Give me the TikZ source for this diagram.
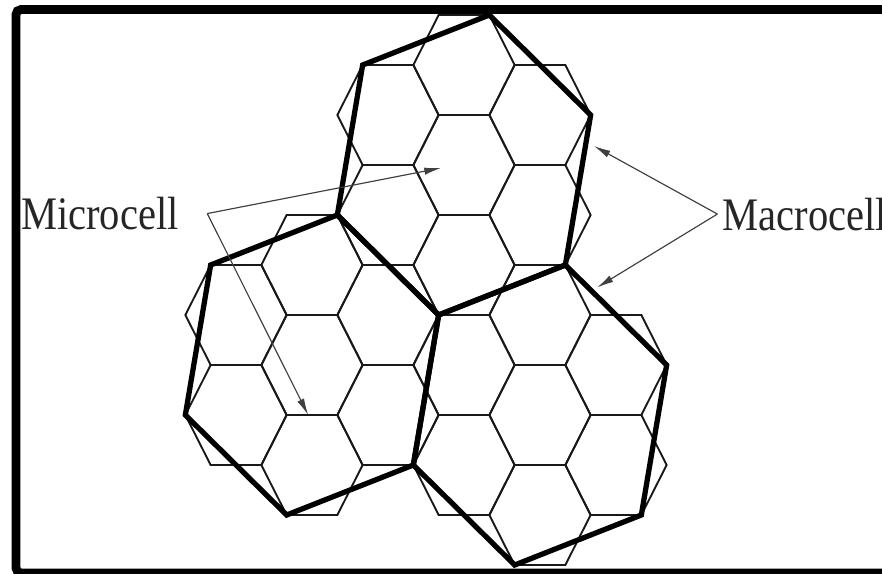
\documentclass[tikz,border=0pt]{standalone}
\usepackage{fontspec}
\setmainfont{Liberation Serif}
\usetikzlibrary{arrows.meta}

\begin{document}
\begin{tikzpicture}[x=0.76cm, y=1.5cm,
    micro/.style={draw=black!90, line width=1.6pt},
    macro/.style={draw=black, line width=4.5pt},
    pointer/.style={-{Latex[length=0.5cm, width=0.22cm]}, draw=black!75, line width=1pt},
    tag/.style={font=\fontsize{34.6}{40}\selectfont, text=black!85, inner sep=0pt, yscale=1.15},
    frame/.style={draw=black, line width=7.5pt, rounded corners=0.15cm}]
  \useasboundingbox (-18.316,-8.16) rectangle (16.5,3.3);
  \clip (-18.316,-8.16) rectangle (16.5,3.3);
  % microcells, 7 round each cluster centre
  \foreach \cx/\cy in {0/0, -6/-4, 3/-5}
    \foreach \dx/\dy in {0/0, 0/2, 0/-2, 3/1, 3/-1, -3/1, -3/-1}
      \draw[micro] ({\cx+\dx+2},{\cy+\dy}) -- ++(-1,1) -- ++(-2,0) -- ++(-1,-1) -- ++(1,-1) -- ++(2,0) -- cycle;
  % macrocells
  \foreach \cx/\cy in {0/0, -6/-4, 3/-5}
    \draw[macro] ({\cx+5},{\cy+1}) -- ++(-4,2) -- ++(-5,-1) -- ++(-1,-3) -- ++(4,-2) -- ++(5,1) -- cycle;
  \node[tag, anchor=base west] (microtxt) at (-17.49,-1.29) {Microcell};
  \node[tag, anchor=base west] (macrotxt) at (10.20,-1.30) {Macrocell};
  \coordinate (microfork) at ([xshift=0.85cm]microtxt.east);
  \coordinate (microtipA) at (-0.91,-0.06);
  \coordinate (microtipB) at (-6.15,-5.0);
  \coordinate (macrotipA) at (5.13,0.38);
  \coordinate (macrotipB) at (5.25,-2.45);
  \draw[pointer] (microfork) -- (microtipA);
  \draw[pointer] (microfork) -- (microtipB);
  \draw[pointer] ([xshift=-0.15cm]macrotxt.west) -- (macrotipA);
  \draw[pointer] ([xshift=-0.15cm]macrotxt.west) -- (macrotipB);
  \draw[frame] (-17.684,-8.16) rectangle (17.2,3.11);
\end{tikzpicture}
\end{document}
